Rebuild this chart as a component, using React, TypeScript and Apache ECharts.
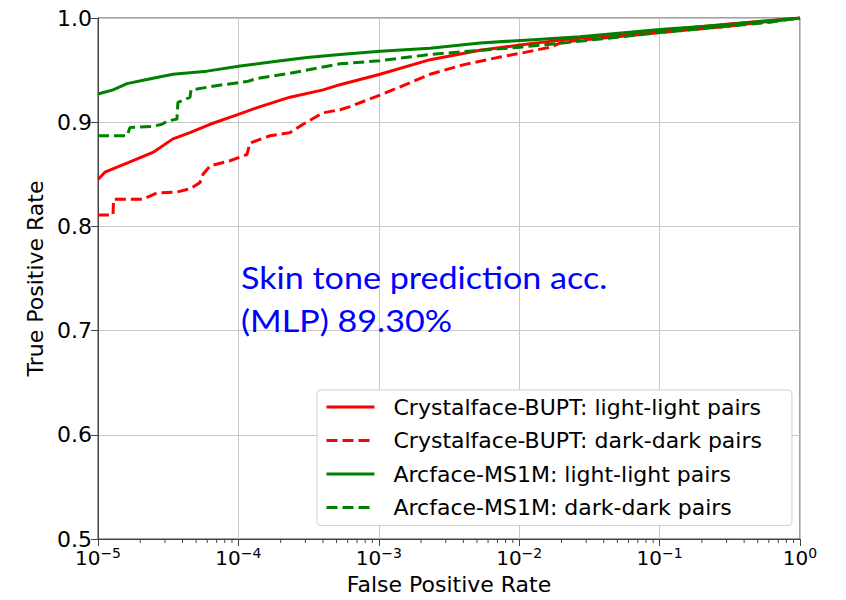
import React, { useEffect, useRef } from "react";
import * as echarts from "echarts";

// ---- Data ----
const crystalLightFpr = [1e-5, 1.12e-5, 1.69e-5, 2.46e-5, 3.42e-5, 4.52e-5, 6.28e-5, 9.77e-5, 1.36e-4, 2.33e-4, 4.01e-4, 5.29e-4, 1.02e-3, 2.32e-3, 5.26e-3, 1.01e-2, 2.05e-2, 0.1, 0.3, 1];
const crystalLightTpr = [0.845, 0.852, 0.862, 0.871, 0.884, 0.89, 0.898, 0.907, 0.914, 0.924, 0.931, 0.936, 0.946, 0.96, 0.969, 0.974, 0.979, 0.988, 0.994, 1.0];

const crystalDarkFpr = [1e-5, 1.28e-5, 1.29e-5, 2.09e-5, 2.63e-5, 3.65e-5, 4.52e-5, 5.32e-5, 5.6e-5, 6.28e-5, 8.71e-5, 1.15e-4, 1.21e-4, 1.68e-4, 2.33e-4, 2.89e-4, 4.01e-4, 5.29e-4, 6.24e-4, 1.02e-3, 1.75e-3, 2.32e-3, 3.98e-3, 6.95e-3, 1.01e-2, 1.66e-2, 2.05e-2, 0.1, 0.3, 1];
const crystalDarkTpr = [0.811, 0.811, 0.826, 0.826, 0.832, 0.833, 0.836, 0.842, 0.85, 0.858, 0.863, 0.869, 0.88, 0.887, 0.89, 0.898, 0.909, 0.912, 0.915, 0.926, 0.939, 0.946, 0.955, 0.962, 0.966, 0.972, 0.977, 0.986, 0.992, 1.0];

const arcLightFpr = [1e-5, 1.28e-5, 1.61e-5, 2.23e-5, 3.42e-5, 5.97e-5, 1.03e-4, 1.76e-4, 3.08e-4, 5.29e-4, 1.02e-3, 2.32e-3, 5.26e-3, 1.19e-2, 2.71e-2, 0.1, 0.269, 1];
const arcLightTpr = [0.927, 0.931, 0.937, 0.941, 0.946, 0.949, 0.954, 0.958, 0.962, 0.965, 0.968, 0.971, 0.976, 0.979, 0.982, 0.989, 0.993, 1.0];

const arcDarkFpr = [1e-5, 1.61e-5, 1.69e-5, 2.46e-5, 2.86e-5, 3.1e-5, 3.65e-5, 3.71e-5, 4.52e-5, 4.6e-5, 7.77e-5, 1.15e-4, 1.36e-4, 2.33e-4, 4.01e-4, 5.29e-4, 1.02e-3, 2.32e-3, 5.26e-3, 1.01e-2, 2.05e-2, 0.1, 0.611, 1];
const arcDarkTpr = [0.887, 0.887, 0.895, 0.896, 0.898, 0.901, 0.903, 0.919, 0.924, 0.931, 0.936, 0.939, 0.942, 0.947, 0.953, 0.956, 0.959, 0.965, 0.969, 0.972, 0.976, 0.986, 0.996, 1.0];

const seriesNames = [
  "Crystalface-BUPT: light-light pairs",
  "Crystalface-BUPT: dark-dark pairs",
  "Arcface-MS1M: light-light pairs",
  "Arcface-MS1M: dark-dark pairs",
];

const yTicks = [0.5, 0.6, 0.7, 0.8, 0.9, 1.0];
const annotationLines = ["Skin tone prediction acc.", "(MLP) 89.30%"];

const decades = [-5, -4, -3, -2, -1];
const minorMultipliers = [2, 3, 4, 5, 6, 7, 8, 9];

const FONT = "DejaVu Sans";

function zip(xs: number[], ys: number[]) {
  return xs.map((x, i) => [x, ys[i]]);
}

export default function App() {
  const ref = useRef<HTMLDivElement>(null);

  useEffect(() => {
    if (!ref.current) return;
    const chart = echarts.init(ref.current, undefined, { renderer: "svg" });

    const minorTicks: number[][] = [];
    decades.forEach((d) =>
      minorMultipliers.forEach((m) => minorTicks.push([m * Math.pow(10, d), 0.5]))
    );

    const dash = [11, 5];
    const mkLine = (name: string, data: number[][], color: string, dashed: boolean) => ({
      name,
      type: "line",
      data,
      symbol: "none",
      showSymbol: false,
      clip: true,
      lineStyle: { color, width: 3, type: dashed ? dash : "solid" },
      itemStyle: { color },
      z: 3,
    });

    chart.setOption({
      animation: false,
      backgroundColor: "#fff",
      grid: {
        left: 98,
        right: 46,
        top: 18,
        bottom: 58,
        show: true,
        borderColor: "#444",
        borderWidth: 1,
        backgroundColor: "transparent",
      },
      xAxis: {
        type: "log",
        logBase: 10,
        min: 1e-5,
        max: 1,
        name: "False Positive Rate",
        nameLocation: "middle",
        nameGap: 34,
        nameTextStyle: { fontFamily: FONT, fontSize: 22, color: "#000" },
        axisLine: { show: true, lineStyle: { color: "#444", width: 1 } },
        axisTick: { show: true, inside: false, length: 7, lineStyle: { color: "#444" } },
        splitLine: { show: true, lineStyle: { color: "#c8c8c8", width: 1 } },
        axisLabel: {
          margin: 7,
          color: "#000",
          fontFamily: FONT,
          formatter: (v: number) => {
            const e = Math.round(Math.log10(v));
            const s = e < 0 ? "\u2212" + Math.abs(e) : String(e);
            return "{b|10}{s|" + s + "}";
          },
          rich: {
            b: { fontFamily: FONT, fontSize: 20, color: "#000" },
            s: { fontFamily: FONT, fontSize: 14, color: "#000", padding: [0, 0, 10, 0] },
          },
        },
      },
      yAxis: {
        type: "value",
        min: 0.5,
        max: 1.0,
        interval: 0.1,
        name: "True Positive Rate",
        nameLocation: "middle",
        nameGap: 52,
        nameTextStyle: { fontFamily: FONT, fontSize: 22, color: "#000" },
        axisLine: { show: true, lineStyle: { color: "#444", width: 1 } },
        axisTick: { show: true, inside: false, length: 7, lineStyle: { color: "#444" } },
        splitLine: { show: true, lineStyle: { color: "#c8c8c8", width: 1 } },
        axisLabel: {
          margin: 6,
          color: "#000",
          fontFamily: FONT,
          fontSize: 22,
          formatter: (v: number) => {
            const t = yTicks.find((k) => Math.abs(k - v) < 1e-6);
            return t !== undefined ? t.toFixed(1) : "";
          },
        },
      },
      legend: {
        data: seriesNames,
        orient: "vertical",
        left: 317,
        top: 390,
        padding: [5, 30, 6, 8],
        itemWidth: 48,
        itemHeight: 14,
        itemGap: 9.5,
        backgroundColor: "#fff",
        borderColor: "#d0d0d0",
        borderWidth: 1,
        borderRadius: 4,
        itemStyle: { opacity: 0 },
        lineStyle: { width: 3 },
        textStyle: {
          fontFamily: FONT,
          fontSize: 22,
          color: "#000",
          lineHeight: 24,
          padding: [0, 0, 0, 14],
        },
      },
      graphic: [
        {
          type: "text",
          left: 241,
          top: 262,
          scaleX: 1.1,
          z: 10,
          style: {
            text: annotationLines[0],
            fill: "#0000ff",
            font: "31px Lato",
          },
        },
        {
          type: "text",
          left: 241,
          top: 305,
          scaleX: 1.1,
          z: 10,
          style: {
            text: annotationLines[1],
            fill: "#0000ff",
            font: "31px Lato",
          },
        },
      ],
      series: [
        mkLine(seriesNames[0], zip(crystalLightFpr, crystalLightTpr), "#ff0000", false),
        mkLine(seriesNames[1], zip(crystalDarkFpr, crystalDarkTpr), "#ff0000", true),
        mkLine(seriesNames[2], zip(arcLightFpr, arcLightTpr), "#008000", false),
        mkLine(seriesNames[3], zip(arcDarkFpr, arcDarkTpr), "#008000", true),
        {
          name: "minorTicks",
          type: "custom",
          data: minorTicks,
          clip: false,
          silent: true,
          renderItem: (_p: any, api: any) => {
            const pt = api.coord([api.value(0), api.value(1)]);
            return {
              type: "line",
              shape: { x1: pt[0], y1: pt[1], x2: pt[0], y2: pt[1] + 4 },
              style: { stroke: "#444", lineWidth: 1 },
            };
          },
        },
      ],
    });

    return () => chart.dispose();
  }, []);

  return <div ref={ref} style={{ width: 846, height: 600, margin: -8 }} />;
}
